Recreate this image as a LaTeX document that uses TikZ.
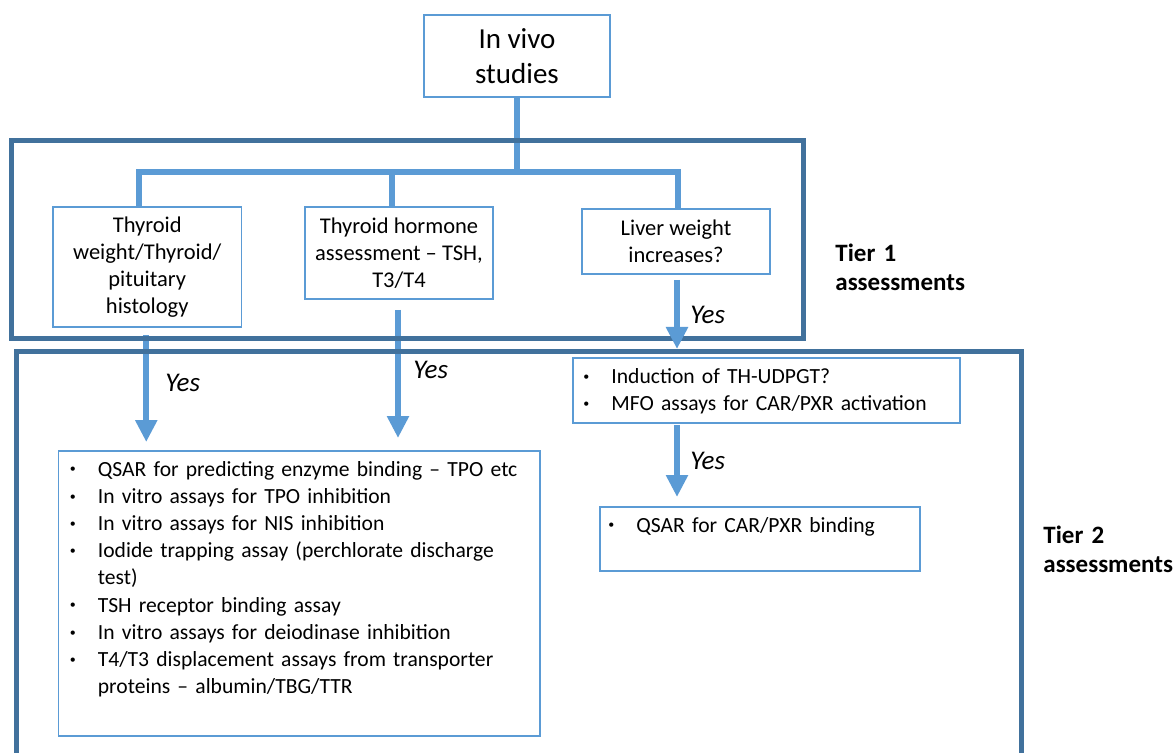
\documentclass[tikz,border=0pt]{standalone}
\usepackage{fontspec}
\setmainfont{Carlito}
\usetikzlibrary{arrows.meta,calc}
\definecolor{lblue}{HTML}{5B9BD5}
\definecolor{dblue}{HTML}{41719C}
\newcommand\bitem{\makebox[15pt][l]{\hspace*{1pt}\raisebox{1.6pt}{\fontsize{6}{6}\selectfont\textbullet}}}
\newcommand\bcont{\hspace*{15pt}}
\begin{document}
\begin{tikzpicture}[x=0.5pt,y=-0.5pt,
 box/.style={draw=lblue,line width=0.75pt,inner sep=0pt,outer sep=0pt,align=center,font=\fontsize{11.25}{13.6}\selectfont},
 frame/.style={draw=dblue,line width=2.5pt,inner sep=0pt,outer sep=0pt},
 conn/.style={draw=lblue,line width=3pt},
 arr/.style={conn,-{Triangle[width=10.5pt,length=11pt]}},
 yes/.style={font=\fontsize{13.5}{16}\selectfont\itshape,anchor=west,inner sep=0pt},
 list/.style={anchor=base west,inner sep=0pt,text width=300pt,align=left,font=\fontsize{10.8}{13.6}\selectfont},
 tier/.style={anchor=base west,inner sep=0pt,text width=100pt,align=left,font=\fontsize{12.5}{14.5}\selectfont\bfseries}]
\useasboundingbox (0,0) rectangle (1176,753);
\clip (0,0) rectangle (1176,753);
% boxes
\node[box,minimum width=93pt,minimum height=41pt,font=\fontsize{14.5}{17.5}\selectfont] (invivo) at (517,56) {In vivo\\studies};
\node[box,minimum width=94.25pt,minimum height=60pt] (b1) at (147.25,267) {Thyroid\\weight/Thyroid/\\pituitary\\histology};
\node[box,minimum width=94pt,minimum height=46pt] (b2) at (399,253) {Thyroid hormone\\assessment – TSH,\\T3/T4};
\node[box,minimum width=94pt,minimum height=32.5pt] (b3) at (676,241.5) {Liver weight\\increases?};
\node[box,minimum width=240.75pt,minimum height=142.5pt] (b4) at (299.25,593.5) {};
\node[box,minimum width=193.5pt,minimum height=32.5pt] (b5) at (766.5,390.5) {};
\node[box,minimum width=160pt,minimum height=32pt] (b6) at (760,539) {};
% list texts
\node[list] (l4) at (67.5,476) {\bitem QSAR for predicting enzyme binding – TPO etc\\
\bitem In vitro assays for TPO inhibition\\
\bitem In vitro assays for NIS inhibition\\
\bitem Iodide trapping assay (perchlorate discharge\\
\bcont test)\\
\bitem TSH receptor binding assay\\
\bitem In vitro assays for deiodinase inhibition\\
\bitem T4/T3 displacement assays from transporter\\
\bcont proteins – albumin/TBG/TTR};
\node[list] (l5) at (581,383.5) {\bitem Induction of TH-UDPGT?\\
\bitem MFO assays for CAR/PXR activation};
\node[list] (l6) at (606,532) {\bitem QSAR for CAR/PXR binding};
% connectors
\coordinate (jl) at (139,172);
\coordinate (jm) at (392,172);
\coordinate (jr) at (678,172);
\draw[conn] (invivo.south) -- (invivo.south |- jl);
\draw[conn,line join=miter] (b1.north -| jl) -- (jl) -- (jr) -- (b3.north -| jr);
\draw[conn] (jm) -- (b2.north -| jm);
\draw[arr] ($(b1.south)+(-1,8)$) -- ($(b1.south |- b4.north)+(-1,-9)$);
\draw[arr] ($(b2.south)+(-1,11)$) -- ($(b2.south |- b4.north)+(-1,-13)$);
% frames
\node[frame,minimum width=396pt,minimum height=98.5pt] (t1) at (407,239.5) {};
\node[frame,minimum width=502.5pt,minimum height=224.5pt] (t2) at (519,575.5) {};
\draw[arr] ($(b3.south)+(1,6)$) -- ($(b3.south |- t2.north)+(1,-2)$);
\draw[arr] ($(b5.south -| b3.south)+(1,2)$) -- ($(b6.north -| b3.south)+(1,-10)$);
% labels
\node[yes] (y1) at (165,383) {Yes};
\node[yes] (y2) at (413,370) {Yes};
\node[yes] (y3) at (690,315) {Yes};
\node[yes] (y4) at (690,461) {Yes};
\node[tier] (tl1) at (835,262) {Tier 1\\assessments};
\node[tier] (tl2) at (1043,543) {Tier 2\\assessments};
\end{tikzpicture}
\end{document}
